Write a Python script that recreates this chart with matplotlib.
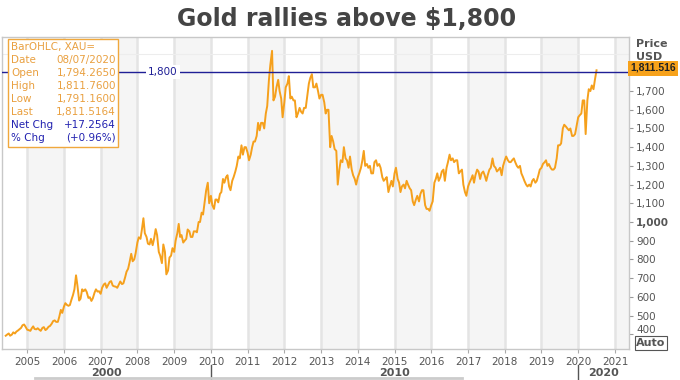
import pandas as pd
import matplotlib.pyplot as plt
import matplotlib.dates as mdates
import matplotlib.transforms as mtransforms
from matplotlib.patches import Rectangle
from matplotlib.lines import Line2D

gold_2004 = [392, 398, 404, 392, 398, 410, 404, 414, 420, 426, 434, 448, 452, 440]
gold_2005 = [424, 422, 418, 432, 442, 428, 426, 432, 424, 418, 434, 438,
             422, 428, 440, 444, 456, 470, 474, 466, 466, 492, 530, 514]
gold_2006 = [548, 566, 556, 552, 556, 582, 610, 640, 715, 660, 580, 590,
             640, 630, 640, 626, 594, 598, 578, 592, 622, 640, 628, 630]
gold_2007 = [616, 648, 666, 672, 648, 662, 680, 684, 660, 656, 654, 648,
             666, 682, 668, 672, 704, 734, 750, 784, 830, 790, 800, 834]
gold_2008 = [890, 918, 910, 960, 1020, 940, 920, 884, 880, 910, 876, 910,
             962, 930, 840, 820, 780, 880, 840, 720, 740, 810, 820, 860]
gold_2009 = [840, 900, 940, 990, 920, 930, 890, 900, 910, 960, 950, 920,
             920, 950, 950, 945, 1000, 1000, 1050, 1040, 1110, 1170, 1210, 1100]
gold_2010 = [1140, 1090, 1070, 1120, 1120, 1105, 1150, 1160, 1230, 1210, 1240, 1250,
             1190, 1170, 1220, 1240, 1270, 1300, 1350, 1340, 1410, 1360, 1400, 1400]
gold_2011 = [1370, 1330, 1360, 1400, 1430, 1430, 1460, 1530, 1490, 1530, 1530, 1500,
             1580, 1620, 1760, 1840, 1915, 1650, 1670, 1720, 1760, 1700, 1660, 1560]
gold_2012 = [1640, 1720, 1740, 1780, 1660, 1670, 1650, 1650, 1560, 1580, 1610, 1590,
             1580, 1610, 1610, 1670, 1740, 1770, 1790, 1720, 1720, 1740, 1700, 1660]
gold_2013 = [1680, 1680, 1640, 1580, 1600, 1600, 1400, 1460, 1430, 1390, 1380, 1200,
             1280, 1330, 1320, 1400, 1340, 1330, 1290, 1350, 1280, 1250, 1230, 1200]
gold_2014 = [1240, 1260, 1290, 1330, 1380, 1300, 1310, 1290, 1300, 1260, 1260, 1320,
             1330, 1300, 1310, 1290, 1240, 1220, 1230, 1240, 1160, 1190, 1220, 1190]
gold_2015 = [1260, 1290, 1230, 1210, 1160, 1190, 1200, 1180, 1220, 1200, 1180, 1170,
             1110, 1090, 1120, 1140, 1110, 1150, 1170, 1170, 1090, 1070, 1070, 1060]
gold_2016 = [1090, 1110, 1210, 1230, 1260, 1220, 1240, 1270, 1280, 1220, 1290, 1320,
             1360, 1330, 1340, 1320, 1330, 1330, 1260, 1270, 1280, 1200, 1160, 1140]
gold_2017 = [1190, 1210, 1230, 1250, 1210, 1250, 1280, 1270, 1230, 1260, 1270, 1250,
             1220, 1250, 1280, 1290, 1340, 1300, 1290, 1270, 1280, 1290, 1250, 1300]
gold_2018 = [1330, 1350, 1330, 1320, 1320, 1330, 1340, 1320, 1300, 1290, 1300, 1260,
             1240, 1220, 1200, 1190, 1200, 1190, 1220, 1230, 1210, 1220, 1250, 1280]
gold_2019 = [1290, 1310, 1320, 1330, 1300, 1310, 1290, 1280, 1280, 1290, 1340, 1410,
             1410, 1420, 1500, 1520, 1510, 1500, 1490, 1500, 1460, 1460, 1470, 1510]
gold_2020 = [1560, 1570, 1580, 1650, 1650, 1470, 1650, 1710, 1700, 1730, 1710, 1760, 1811]

price = (gold_2004 + gold_2005 + gold_2006 + gold_2007 + gold_2008 + gold_2009
         + gold_2010 + gold_2011 + gold_2012 + gold_2013 + gold_2014 + gold_2015
         + gold_2016 + gold_2017 + gold_2018 + gold_2019 + gold_2020)
dates = pd.date_range('2004-06-01', periods=len(price), freq='SMS')

years = list(range(2005, 2022))
price_ticks = list(range(400, 1800, 100))
grid_levels = list(range(400, 2000, 100))
level = 1800

info_labels = ['BarOHLC, XAU=', 'Date', 'Open', 'High', 'Low', 'Last', 'Net Chg', '% Chg']
info_values = ['', '08/07/2020', '1,794.2650', '1,811.7600', '1,791.1600',
               '1,811.5164', '+17.2564', '(+0.96%)']

W, H = 680, 380
fig = plt.figure(figsize=(W / 100, H / 100), dpi=100)
ax = fig.add_axes([2 / W, 1 - 349 / H, 627 / W, 312 / H])

gold = '#F5A01C'
navy = '#1F1F96'
grey_txt = '#555555'

# alternate year shading
for y in years[::2]:
    ax.axvspan(pd.Timestamp(f'{y}-01-01'), pd.Timestamp(f'{y + 1}-01-01'),
               color='#f5f5f5', zorder=0, lw=0)

ax.plot(dates, price, color=gold, lw=1.4, zorder=2)

ax.axhline(level, color=navy, lw=1, zorder=3)
ax.text(pd.Timestamp('2008-09-12'), level, '1,800', color=navy, fontsize=7.5,
        ha='center', va='center', zorder=4,
        bbox=dict(facecolor='white', edgecolor='none', pad=1.5))

ax.set_xlim(pd.Timestamp('2004-04-25'), pd.Timestamp('2021-05-20'))
ax.set_ylim(321, 1989)

ax.set_xticks([mdates.date2num(pd.Timestamp(f'{y}-01-01')) for y in years])
ax.set_xticklabels([str(y) for y in years])
ax.tick_params(axis='x', length=3, color='#aaaaaa', labelsize=7.5,
               labelcolor=grey_txt, pad=3)
ax.grid(axis='x', color='#e4e4e4', lw=1.8, zorder=1)

ax.yaxis.tick_right()
ax.set_yticks(price_ticks)
ax.set_yticklabels([f'{v:,}' for v in price_ticks])
ax.set_yticks(grid_levels, minor=True)
ax.tick_params(axis='y', which='major', length=3, color='#999999', labelsize=7.5,
               labelcolor=grey_txt, pad=2)
ax.tick_params(axis='y', which='minor', length=0)
ax.grid(axis='y', which='minor', color='#ededed', lw=0.8, zorder=1)
for lab in ax.get_yticklabels():
    if lab.get_text() == '1,000':
        lab.set_fontweight('bold')
    if lab.get_text() == '400':
        lab.set_transform(lab.get_transform() + mtransforms.ScaledTranslation(
            0, 4 / 72, fig.dpi_scale_trans))

for s in ax.spines.values():
    s.set_color('#c8c8c8')
    s.set_linewidth(1)

# decade row under the year labels
trans = mtransforms.blended_transform_factory(ax.transData, ax.transAxes)
x0, x1 = ax.get_xlim()
cuts = [x0, mdates.date2num(pd.Timestamp('2010-01-01')),
        mdates.date2num(pd.Timestamp('2020-01-01')), x1]
for name, a, b in zip(['2000', '2010', '2020'], cuts[:-1], cuts[1:]):
    ax.text((a + b) / 2, -0.077, name, transform=trans, ha='center', va='center',
            fontsize=8, fontweight='bold', color=grey_txt)
for c in cuts[1:3]:
    ax.plot([c, c], [-0.051, -0.099], transform=trans, color='#555555', lw=1,
            clip_on=False)

fig.add_artist(Line2D([35 / W, 462 / W], [1 - 378 / H, 1 - 378 / H],
                      color='#cccccc', lw=2))

# title
fig.text(347 / W, 1 - 19 / H, 'Gold rallies above $1,800', ha='center', va='center',
         fontsize=17, fontweight='bold', color='#444444')

# info box
fig.add_artist(Rectangle((8 / W, 1 - 147 / H), 110 / W, 108 / H,
                         transform=fig.transFigure, facecolor='white',
                         edgecolor='#F0A83C', lw=1, zorder=5))
for i, (lab, val) in enumerate(zip(info_labels, info_values)):
    col = '#E9A040' if i < 6 else '#2222B0'
    yy = 1 - (47 + 13 * i) / H
    fig.text(11 / W, yy, lab, ha='left', va='center', fontsize=7.5, color=col, zorder=6)
    fig.text(116 / W, yy, val, ha='right', va='center', fontsize=7.5, color=col, zorder=6)

# right axis header and markers
fig.text(636 / W, 1 - 44 / H, 'Price', fontsize=8, fontweight='bold', color=grey_txt,
         va='center')
fig.text(636 / W, 1 - 57 / H, 'USD', fontsize=8, fontweight='bold', color=grey_txt,
         va='center')
fig.text(630 / W, 1 - 68 / H, '1,811.516', fontsize=7.5, fontweight='bold',
         family='Liberation Sans', color='#222222', va='center', zorder=6,
         bbox=dict(facecolor='#F7A21B', edgecolor='none', pad=1.8))
fig.text(651 / W, 1 - 343 / H, 'Auto', fontsize=8, fontweight='bold', color=grey_txt,
         ha='center', va='center',
         bbox=dict(facecolor='white', edgecolor='#555555', pad=1.2, lw=0.8))

fig.savefig('out.png', dpi=100)
